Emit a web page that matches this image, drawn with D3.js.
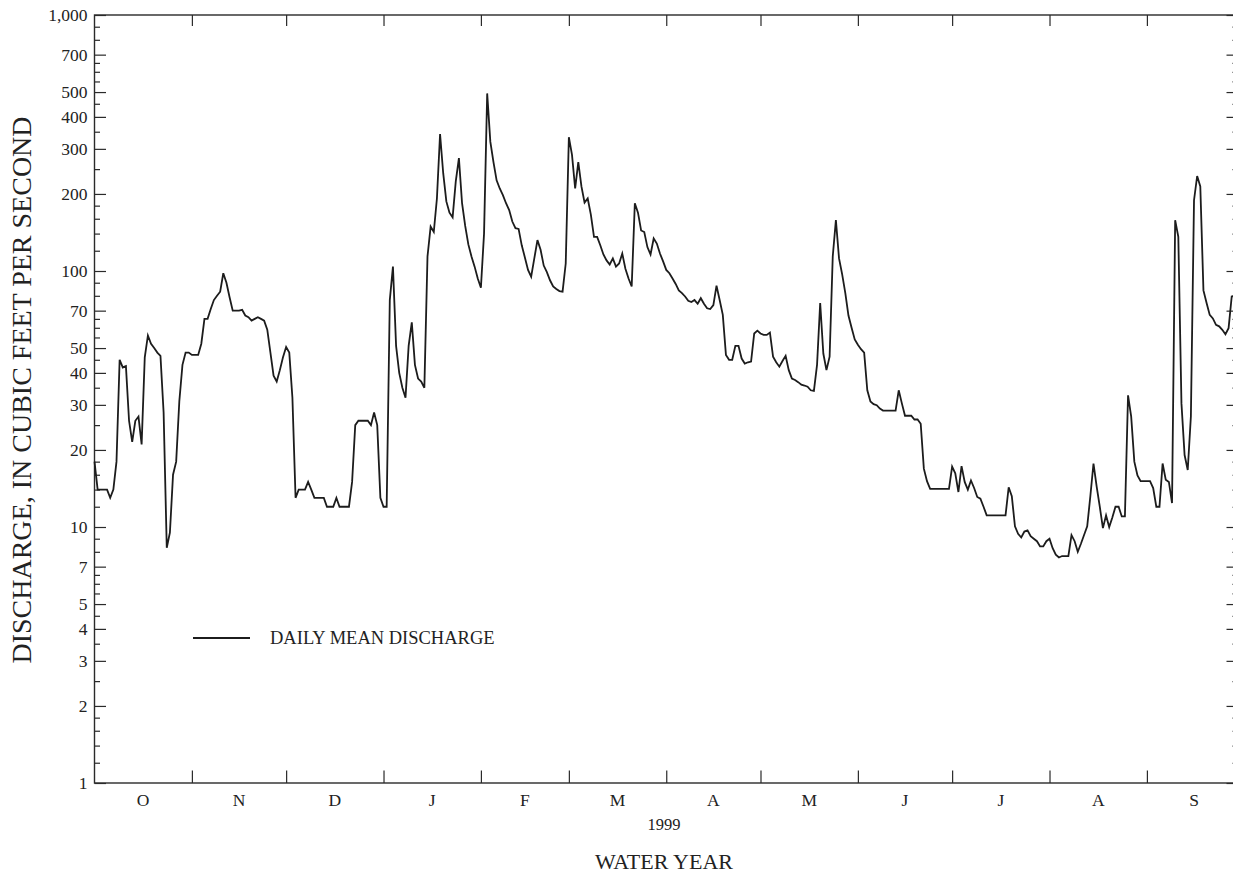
<!DOCTYPE html>
<html>
<head>
<meta charset="utf-8">
<script src="https://cdn.jsdelivr.net/npm/d3@7"></script>
<style>
  body { margin: 0; background: #fff; }
  text { font-family: "Liberation Serif", "Times New Roman", serif; fill: #222; }
</style>
</head>
<body>
<svg id="chart" width="1233" height="878"></svg>
<script>
// daily mean discharge, water year 1999 (cubic feet per second)
var oct = [18, 14, 14, 14, 14, 13, 14, 18, 45, 42, 42.5, 26, 21.5, 26, 27, 21, 46, 56, 52, 50,
           48, 46.6, 28, 8.3, 9.5, 16, 18, 31, 43, 48, 48];
var nov = [47, 47, 47, 52, 65, 65, 71, 77, 80, 83, 98, 90, 79, 70, 70, 70, 70.5, 67, 66, 64,
           65, 66, 65, 64, 59, 48, 39, 37, 41, 46];
var dec = [50.5, 48, 32, 13, 14, 14, 14, 15, 14, 13, 13, 13, 13, 12, 12, 12, 13, 12, 12, 12,
           12, 15, 25, 26, 26, 26, 26, 25, 28, 25, 13];
var jan = [12, 12, 77, 104, 51, 40, 35, 32, 51, 63, 43, 38, 37, 35, 114, 149, 142, 192, 343, 241,
           187, 169, 162, 224, 276, 184, 150, 127, 114, 104, 93.5];
var feb = [86, 140, 494, 320, 266, 226, 210, 198, 184, 173, 156, 147, 146, 126, 113, 101, 95, 112, 132, 121,
           105, 99, 92, 87, 85, 83.5, 83, 107];
var mar = [333, 284, 210, 266, 214, 185, 192, 166, 136, 136, 126, 116, 110, 106, 112, 104, 107, 117, 102, 93.5,
           87, 184, 169, 144, 142, 124, 116, 134, 128, 117, 109];
var apr = [101, 98, 93.5, 89, 84, 82, 79.5, 76.5, 75.6, 77, 74.5, 78.3, 74.5, 71.5, 71, 73.6, 87.6, 77, 67.4, 47,
           45, 45, 51, 51, 45.5, 43.5, 44, 44.3, 57, 58.5];
var may = [57, 56.3, 56.3, 57.5, 46.3, 44, 42.3, 44.5, 46.6, 41, 38, 37.5, 36.8, 36, 35.7, 35.3, 34.2, 34, 43, 75,
           47.6, 41, 46.3, 114, 158, 112, 97, 82, 67, 60, 54];
var jun = [51.5, 49.5, 48, 34.2, 30.9, 30.2, 29.9, 29, 28.5, 28.5, 28.5, 28.5, 28.5, 34.2, 30.4, 27.2, 27.2, 27.2, 26.3, 26.3,
           25.3, 16.9, 15.1, 14.1, 14.1, 14.1, 14.1, 14.1, 14.1, 14.1];
var jul = [17.2, 16.2, 13.7, 17.3, 15, 14, 15.2, 14.2, 13.1, 12.9, 12, 11.1, 11.1, 11.1, 11.1, 11.1, 11.1, 11.1, 14.3, 13.2,
           10.06, 9.4, 9.1, 9.6, 9.7, 9.2, 9.0, 8.8, 8.4, 8.4, 8.8];
var aug = [9.0, 8.26, 7.8, 7.6, 7.7, 7.7, 7.7, 9.3, 8.8, 8.0, 8.6, 9.3, 10.06, 13.2, 17.7, 14.4, 12, 9.9, 11.1, 10,
           10.9, 12, 12, 11, 11, 32.7, 27, 18, 15.9, 15.1, 15.1];
var sep = [15.1, 15.1, 14.2, 12, 12, 17.7, 15.3, 15, 12.4, 158, 136, 30.4, 19.1, 16.7, 27, 189, 235, 214, 84, 75,
           67.4, 65.3, 61.6, 60.8, 58.9, 56.6, 59.8, 79.5, 80, 82];

var monthLabels = ["O", "N", "D", "J", "F", "M", "A", "M", "J", "J", "A", "S"];
var majorTicks = [1, 2, 3, 4, 5, 7, 10, 20, 30, 40, 50, 70, 100, 200, 300, 400, 500, 700, 1000];
var minorSteps = [1.2, 1.4, 1.6, 1.8, 2.5, 3.5, 4.5, 5.5, 6, 6.5, 8, 9];
var minorTicks = [];
[1, 10, 100].forEach(function(dec) {
  minorSteps.forEach(function(s) { minorTicks.push(s * dec); });
});

var start = new Date(Date.UTC(1998, 9, 1));
var end = new Date(Date.UTC(1999, 8, 30));

var daily = [].concat(oct, nov, dec, jan, feb, mar, apr, may, jun, jul, aug, sep)
  .map(function(q, i) { return { date: d3.utcDay.offset(start, i), q: q }; });

// plot box (the right edge lies just outside the picture, as in the original)
var plotL = 94.5, plotR = 1238, plotT = 15, plotB = 783;

var svg = d3.select("#chart");

var x = d3.scaleUtc().domain([start, end]).range([plotL, plotR]);
var y = d3.scaleLog().domain([1, 1000]).range([plotB, plotT]);

var monthStarts = d3.utcMonth.range(d3.utcMonth.offset(start, 1), d3.utcMonth.offset(start, 12));

// frame
svg.append("rect")
  .attr("x", plotL).attr("y", plotT)
  .attr("width", plotR - plotL).attr("height", plotB - plotT)
  .attr("fill", "none").attr("stroke", "#2a2a2a").attr("stroke-width", 1.4);

function cleanAxis(g) {
  g.select(".domain").remove();
  g.selectAll(".tick line").attr("stroke", "#2a2a2a").attr("stroke-width", 1.2);
}

// y axes, ticks point inward
svg.append("g")
  .attr("transform", "translate(" + plotL + ",0)")
  .call(d3.axisLeft(y).tickValues(majorTicks).tickSize(-11.5).tickPadding(7)
    .tickFormat(d3.format(",")))
  .call(cleanAxis)
  .selectAll("text")
    .attr("font-size", 17.5)
    .attr("font-family", "Liberation Serif, serif")
    .attr("fill", "#222");

svg.append("g")
  .attr("transform", "translate(" + plotL + ",0)")
  .call(d3.axisLeft(y).tickValues(minorTicks).tickSize(-5.5).tickFormat(""))
  .call(cleanAxis);

svg.append("g")
  .attr("transform", "translate(" + plotR + ",0)")
  .call(d3.axisRight(y).tickValues(majorTicks).tickSize(-11.5).tickFormat(""))
  .call(cleanAxis);

svg.append("g")
  .attr("transform", "translate(" + plotR + ",0)")
  .call(d3.axisRight(y).tickValues(minorTicks).tickSize(-5.5).tickFormat(""))
  .call(cleanAxis);

// month ticks top and bottom
svg.append("g")
  .attr("transform", "translate(0," + plotB + ")")
  .call(d3.axisBottom(x).tickValues(monthStarts).tickSize(-12.5).tickFormat(""))
  .call(cleanAxis);

svg.append("g")
  .attr("transform", "translate(0," + plotT + ")")
  .call(d3.axisTop(x).tickValues(monthStarts).tickSize(-11).tickFormat(""))
  .call(cleanAxis);

// month letters centred in each month
svg.append("g").selectAll("text")
  .data(monthLabels)
  .join("text")
    .attr("x", function(d, i) {
      var a = d3.utcMonth.offset(start, i), b = d3.utcMonth.offset(start, i + 1);
      return x(new Date((+a + +b) / 2));
    })
    .attr("y", 806)
    .attr("text-anchor", "middle")
    .attr("font-size", 17.5)
    .text(function(d) { return d; });

svg.append("text")
  .attr("x", 664).attr("y", 830)
  .attr("text-anchor", "middle")
  .attr("font-size", 16.5)
  .text("1999");

svg.append("text")
  .attr("x", 664).attr("y", 869)
  .attr("text-anchor", "middle")
  .attr("font-size", 22)
  .text("WATER YEAR");

svg.append("text")
  .attr("transform", "translate(31,390) rotate(-90)")
  .attr("text-anchor", "middle")
  .attr("font-size", 28)
  .text("DISCHARGE, IN CUBIC FEET PER SECOND");

// the discharge line
var line = d3.line()
  .x(function(d) { return x(d.date); })
  .y(function(d) { return y(d.q); });

svg.append("path")
  .datum(daily)
  .attr("fill", "none")
  .attr("stroke", "#1c1c1c")
  .attr("stroke-width", 1.8)
  .attr("stroke-linejoin", "miter")
  .attr("d", line);

// legend
svg.append("line")
  .attr("x1", 193).attr("x2", 250)
  .attr("y1", 638).attr("y2", 638)
  .attr("stroke", "#1c1c1c").attr("stroke-width", 1.8);

svg.append("text")
  .attr("x", 270).attr("y", 644)
  .attr("font-size", 18.5)
  .text("DAILY MEAN DISCHARGE");
</script>
</body>
</html>
